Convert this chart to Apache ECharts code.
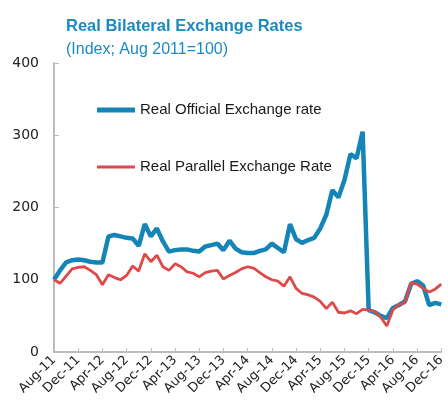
<!DOCTYPE html>
<html>
<head>
<meta charset="utf-8">
<script src="https://cdn.jsdelivr.net/npm/echarts@6/dist/echarts.min.js"></script>
<style>
  html, body { margin: 0; padding: 0; background: #fff; }
  #chart { width: 448px; height: 410px; }
</style>
</head>
<body>
<div id="chart"></div>
<script>
// monthly categories, Aug-11 .. Dec-16
const months = [
  'Aug-11', 'Sep-11', 'Oct-11', 'Nov-11', 'Dec-11', 'Jan-12', 'Feb-12', 'Mar-12',
  'Apr-12', 'May-12', 'Jun-12', 'Jul-12', 'Aug-12', 'Sep-12', 'Oct-12', 'Nov-12',
  'Dec-12', 'Jan-13', 'Feb-13', 'Mar-13', 'Apr-13', 'May-13', 'Jun-13', 'Jul-13',
  'Aug-13', 'Sep-13', 'Oct-13', 'Nov-13', 'Dec-13', 'Jan-14', 'Feb-14', 'Mar-14',
  'Apr-14', 'May-14', 'Jun-14', 'Jul-14', 'Aug-14', 'Sep-14', 'Oct-14', 'Nov-14',
  'Dec-14', 'Jan-15', 'Feb-15', 'Mar-15', 'Apr-15', 'May-15', 'Jun-15', 'Jul-15',
  'Aug-15', 'Sep-15', 'Oct-15', 'Nov-15', 'Dec-15', 'Jan-16', 'Feb-16', 'Mar-16',
  'Apr-16', 'May-16', 'Jun-16', 'Jul-16', 'Aug-16', 'Sep-16', 'Oct-16', 'Nov-16',
  'Dec-16'
]

// Real Official Exchange rate (index)
const official = [
  100, 113, 124, 127, 128, 127, 125, 124,
  124, 160, 162, 160, 158, 157, 147, 177,
  160, 171, 153, 139, 141, 142, 142, 140,
  139, 146, 148, 150, 141, 154, 143, 138,
  137, 137, 140, 142, 150, 144, 138, 177,
  156, 151, 155, 158, 171, 190, 224, 214,
  238, 274, 268, 305, 58, 55, 50, 47,
  61, 65, 70, 94, 98, 92, 65, 68,
  66
]

// Real Parallel Exchange Rate (index)
const parallel = [
  100, 95, 105, 115, 117, 118, 113, 107,
  93, 107, 103, 100, 106, 119, 112, 136,
  125, 134, 118, 113, 122, 118, 111, 109,
  104, 110, 112, 113, 101, 106, 110, 115,
  118, 116, 110, 104, 100, 98, 91, 104,
  88, 81, 79, 76, 70, 60, 69, 55,
  54, 57, 53, 59, 58, 56, 48, 36,
  58, 66, 68, 96, 94, 88, 83, 87,
  94
]

const yTicks = [0, 100, 200, 300, 400]

const sans = "'Liberation Sans', Arial, sans-serif"
const blue = '#1485b6'
const red = '#de4a4a'

const chart = echarts.init(document.getElementById('chart'))

const option = {
  animation: false,
  title: {
    text: 'Real Bilateral Exchange Rates',
    subtext: '(Index; Aug 2011=100)',
    left: 61,
    top: 13,
    itemGap: 7,
    textStyle: { color: '#1a8bbf', fontFamily: sans, fontSize: 16.5, fontWeight: 'bold' },
    subtextStyle: { color: '#1a8bbf', fontFamily: sans, fontSize: 16 }
  },
  // 图例：线段样式用 path 画，蓝粗红细
  legend: {
    orient: 'vertical',
    left: 92,
    top: 97,
    itemWidth: 38,
    itemHeight: 5,
    itemGap: 41,
    textStyle: { color: '#1a1a1a', fontFamily: sans, fontSize: 15, lineHeight: 16 },
    data: [
      { name: 'Real Official Exchange rate', icon: 'path://M0,0h38v5h-38z' },
      { name: 'Real Parallel Exchange Rate', icon: 'path://M0,0h0.01v5h-0.01z M0,1h38v3h-38z' }
    ]
  },
  grid: { left: 54, right: 0, top: 63, bottom: 58 },
  xAxis: {
    type: 'category',
    data: months,
    boundaryGap: false,
    axisLine: { lineStyle: { color: '#bdbdbd', width: 2 } },
    axisTick: { inside: true, interval: 3, length: 4, lineStyle: { color: '#bdbdbd' } },
    axisLabel: {
      interval: 3,
      rotate: 45,
      color: '#222',
      fontFamily: 'DejaVu Sans',
      fontSize: 13,
      margin: 6
    }
  },
  yAxis: {
    type: 'value',
    min: yTicks[0],
    max: yTicks[yTicks.length - 1],
    interval: 100,
    splitLine: { show: false },
    axisLine: { show: true, lineStyle: { color: '#bdbdbd', width: 2 } },
    axisTick: { show: true, inside: true, length: 5, lineStyle: { color: '#bdbdbd' } },
    axisLabel: { color: '#222', fontFamily: 'DejaVu Sans', fontSize: 14, margin: 15 }
  },
  series: [
    {
      name: 'Real Official Exchange rate',
      type: 'line',
      data: official,
      symbol: 'none',
      lineStyle: { color: blue, width: 4.5 },
      itemStyle: { color: blue },
      z: 2
    },
    {
      name: 'Real Parallel Exchange Rate',
      type: 'line',
      data: parallel,
      symbol: 'none',
      lineStyle: { color: red, width: 2.8 },
      itemStyle: { color: red },
      z: 3
    }
  ]
}

chart.setOption(option)
</script>
</body>
</html>
